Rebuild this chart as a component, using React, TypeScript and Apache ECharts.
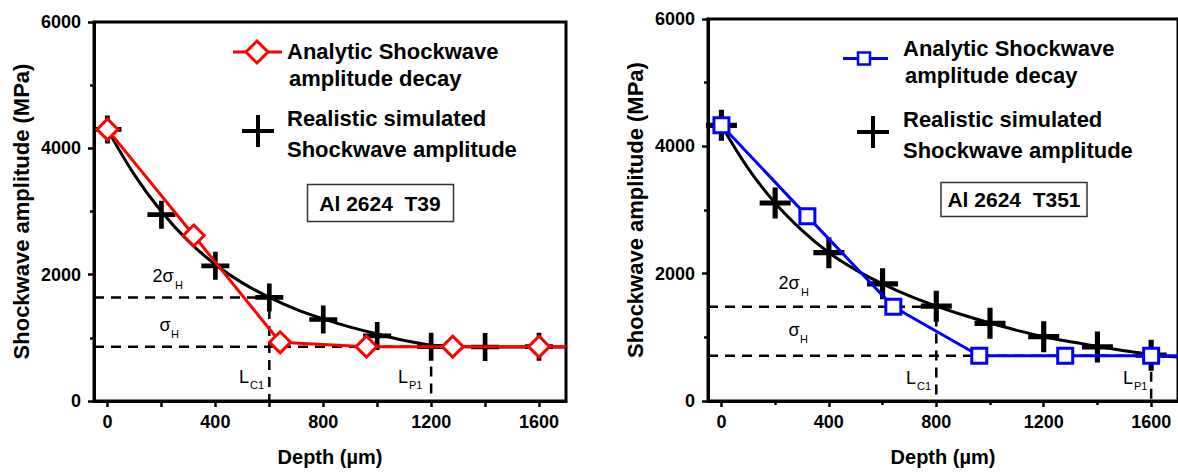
import React, { useEffect, useRef } from "react";
import * as echarts from "echarts";

// ---------- data ----------
const xMajorTicks = [0, 400, 800, 1200, 1600];
const xMinorTicks = [200, 600, 1000, 1400];
const X_MIN = -50;
const X_MAX = 1700;
const Y_MAX = 6000;

// Left chart: Al 2624 T39
const leftAnalyticX = [0, 320, 640, 960, 1280, 1600];
const leftAnalyticY = [4300, 2620, 930, 860, 860, 860];
const leftAnalyticEndY = 860; // continues flat to the frame
const leftSimX = [0, 200, 400, 600, 800, 1000, 1200, 1400, 1600];
const leftSimY = [4300, 2950, 2140, 1640, 1290, 1030, 860, 855, 860];
const leftCurveX = [0, 100, 200, 300, 400, 500, 600, 700, 800, 900, 1000, 1100, 1200, 1300, 1400, 1500, 1600, 1700];
const leftCurveY = [4300, 3580, 3000, 2530, 2160, 1870, 1640, 1450, 1300, 1170, 1060, 960, 885, 862, 857, 856, 856, 856];
const left2SigmaH = 1640;
const leftSigmaH = 860;
const leftLC1 = 600;
const leftLP1 = 1200;

// Right chart: Al 2624 T351
const rightAnalyticX = [0, 320, 640, 960, 1280, 1600];
const rightAnalyticY = [4330, 2900, 1480, 710, 710, 710];
const rightAnalyticEndY = 710;
const rightSimX = [0, 200, 400, 600, 800, 1000, 1200, 1400, 1600];
const rightSimY = [4330, 3110, 2330, 1840, 1490, 1220, 1010, 850, 720];
const rightCurveX = [0, 100, 200, 300, 400, 500, 600, 700, 800, 900, 1000, 1100, 1200, 1300, 1400, 1500, 1600, 1700];
const rightCurveY = [4330, 3650, 3110, 2680, 2330, 2060, 1840, 1650, 1490, 1350, 1225, 1110, 1010, 930, 860, 790, 730, 690];
const right2SigmaH = 1480;
const rightSigmaH = 710;
const rightLC1 = 800;
const rightLP1 = 1600;

const legendAnalytic = ["Analytic Shockwave", "amplitude decay"];
const legendSim = ["Realistic simulated", "Shockwave amplitude"];
const leftTitle = "Al 2624  T39";
const rightTitle = "Al 2624  T351";
const yName = "Shockwave amplitude (MPa)";
const xName = "Depth (\u00b5m)";

// ---------- helpers ----------
const FONT = '"Liberation Sans", Arial, Helvetica, sans-serif';
const PLUS = "path://M-2.5,-15H2.5V-2.5H15V2.5H2.5V15H-2.5V2.5H-15V-2.5H-2.5Z";

const zip = (xs: number[], ys: number[]) => xs.map((x, i) => [x, ys[i]]);
const plain = (v: number) => String(v);

const GRIDS = [
  { left: 94, top: 22, width: 472, height: 381 },
  { left: 708, top: 19, width: 475, height: 382 },
];

function xAxes(gridIndex: number) {
  const common = {
    gridIndex,
    type: "value",
    min: X_MIN,
    max: X_MAX,
    splitLine: { show: false },
  };
  return [
    {
      ...common,
      position: "bottom",
      name: xName,
      nameLocation: "middle",
      nameGap: 46,
      nameTextStyle: { color: "#000", fontSize: 20, fontWeight: "bold", fontFamily: FONT },
      axisLine: { show: true, onZero: false, lineStyle: { color: "#000", width: 3 } },
      axisTick: { show: true, length: 6, customValues: xMajorTicks, lineStyle: { color: "#000", width: 2.5 } },
      axisLabel: {
        show: true,
        customValues: xMajorTicks,
        formatter: plain,
        margin: 12,
        color: "#000",
        fontSize: 18,
        fontWeight: "bold",
        fontFamily: FONT,
      },
    },
    {
      ...common,
      position: "top",
      offset: -GRIDS[gridIndex].height,
      axisLine: { show: false, onZero: false },
      axisTick: { show: true, inside: true, length: 4, customValues: xMinorTicks, lineStyle: { color: "#000", width: 2.5 } },
      axisLabel: { show: false },
    },
  ];
}

function yAxis(gridIndex: number) {
  return {
    gridIndex,
    type: "value",
    min: 0,
    max: Y_MAX,
    interval: 2000,
    position: "left",
    name: yName,
    nameLocation: "middle",
    nameGap: 62,
    nameTextStyle: { color: "#000", fontSize: 22, fontWeight: "bold", fontFamily: FONT },
    splitLine: { show: false },
    axisLine: { show: true, onZero: false, lineStyle: { color: "#000", width: 3 } },
    axisTick: { show: true, length: 6, lineStyle: { color: "#000", width: 2.5 } },
    minorTick: { show: true, splitNumber: 2, length: 4, lineStyle: { color: "#000", width: 2.5 } },
    axisLabel: { margin: 13, formatter: plain, color: "#000", fontSize: 18, fontWeight: "bold", fontFamily: FONT },
  };
}

function chartSeries(
  xAxisIndex: number,
  yAxisIndex: number,
  color: string,
  symbol: string,
  symbolSize: number,
  plusSize: number,
  analyticX: number[],
  analyticY: number[],
  analyticEndY: number,
  simX: number[],
  simY: number[],
  curveX: number[],
  curveY: number[],
  s2: number,
  s1: number,
  lc1: number,
  lp1: number
) {
  const base = { xAxisIndex, yAxisIndex, animation: false, silent: true };
  const dash = { color: "#000", width: 2.5, type: [10, 7] };
  return [
    {
      ...base,
      type: "line",
      z: 1,
      symbol: "none",
      lineStyle: dash,
      data: [
        [X_MIN, s2],
        [lc1, s2],
        [lc1, 0],
      ],
    },
    {
      ...base,
      type: "line",
      z: 1,
      symbol: "none",
      lineStyle: dash,
      data: [
        [X_MIN, s1],
        [lp1, s1],
        [lp1, 0],
      ],
    },
    {
      ...base,
      type: "line",
      z: 2,
      symbol: "none",
      smooth: 0.4,
      lineStyle: { color: "#000", width: 3 },
      data: zip(curveX, curveY),
    },
    {
      ...base,
      type: "scatter",
      z: 3,
      symbol: PLUS,
      symbolSize: plusSize,
      itemStyle: { color: "#000", opacity: 1 },
      data: zip(simX, simY),
    },
    {
      ...base,
      type: "line",
      z: 4,
      symbol,
      symbolSize,
      showAllSymbol: true,
      lineStyle: { color, width: 3 },
      itemStyle: { color: "#fff", borderColor: color, borderWidth: 3, opacity: 1 },
      data: [
        ...zip(analyticX, analyticY),
        { value: [X_MAX, analyticEndY], symbol: "none" },
      ],
    },
  ];
}

function txt(x: number, y: number, text: string, size: number, weight = "bold", align = "left") {
  return {
    type: "text",
    x,
    y,
    silent: true,
    z: 100,
    style: {
      text,
      fill: "#000",
      fontSize: size,
      fontWeight: weight,
      fontFamily: FONT,
      align,
      verticalAlign: "middle",
      textAlign: align,
      textVerticalAlign: "middle",
    },
  };
}

function plusIcon(cx: number, cy: number, half: number) {
  return [
    { type: "line", silent: true, z: 100, shape: { x1: cx - half, y1: cy, x2: cx + half, y2: cy }, style: { stroke: "#000", lineWidth: 4 } },
    { type: "line", silent: true, z: 100, shape: { x1: cx, y1: cy - half, x2: cx, y2: cy + half }, style: { stroke: "#000", lineWidth: 4 } },
  ];
}

function sigmaLabels(
  t2: [number, number],
  t1: [number, number],
  lc: [number, number],
  lp: [number, number]
) {
  return [
    txt(t2[0], t2[1], "2\u03c3", 18, "normal", "center"),
    txt(t2[0] + 12, t2[1] + 9, "H", 11, "normal", "left"),
    txt(t1[0], t1[1], "\u03c3", 18, "normal", "center"),
    txt(t1[0] + 6, t1[1] + 9, "H", 11, "normal", "left"),
    txt(lc[0], lc[1], "L", 18, "normal", "center"),
    txt(lc[0] + 6, lc[1] + 8, "C1", 11, "normal", "left"),
    txt(lp[0], lp[1], "L", 18, "normal", "center"),
    txt(lp[0] + 6, lp[1] + 8, "P1", 11, "normal", "left"),
  ];
}

function buildOption() {
  const graphic: any[] = [
    // Left legend
    { type: "line", silent: true, z: 100, shape: { x1: 233, y1: 52, x2: 282, y2: 52 }, style: { stroke: "#ff0000", lineWidth: 3 } },
    {
      type: "polygon",
      silent: true,
      z: 101,
      shape: { points: [[257, 41], [268, 52], [257, 63], [246, 52]] },
      style: { fill: "#fff", stroke: "#ff0000", lineWidth: 3 },
    },
    txt(287, 51, legendAnalytic[0], 22),
    txt(289, 78, legendAnalytic[1], 22),
    ...plusIcon(258, 131, 16),
    txt(287, 118, legendSim[0], 22),
    txt(287, 149, legendSim[1], 22),
    { type: "rect", silent: true, z: 100, shape: { x: 307.5, y: 184.5, width: 146, height: 37 }, style: { fill: "#fff", stroke: "#333", lineWidth: 1.5 } },
    txt(380, 203, leftTitle, 21, "bold", "center"),
    // Right legend
    { type: "line", silent: true, z: 100, shape: { x1: 843, y1: 58.5, x2: 888, y2: 58.5 }, style: { stroke: "#0000ff", lineWidth: 3 } },
    { type: "rect", silent: true, z: 101, shape: { x: 858, y: 52.5, width: 12, height: 12 }, style: { fill: "#fff", stroke: "#0000ff", lineWidth: 2.5 } },
    txt(903, 48, legendAnalytic[0], 22),
    txt(905, 75, legendAnalytic[1], 22),
    ...plusIcon(873, 132, 16),
    txt(903, 119, legendSim[0], 22),
    txt(903, 150, legendSim[1], 22),
    { type: "rect", silent: true, z: 100, shape: { x: 941, y: 182.5, width: 146, height: 34 }, style: { fill: "#fff", stroke: "#333", lineWidth: 1.5 } },
    txt(1014, 199.5, rightTitle, 21, "bold", "center"),
    // annotations
    ...sigmaLabels([163, 276], [165, 325], [244, 377], [403, 377]),
    ...sigmaLabels([789, 283], [794, 330], [911, 378], [1128, 378]),
  ];

  return {
    animation: false,
    backgroundColor: "#fff",
    textStyle: { fontFamily: FONT },
    grid: GRIDS.map((g) => ({
      ...g,
      show: true,
      borderColor: "#000",
      borderWidth: 3,
      backgroundColor: "transparent",
      containLabel: false,
    })),
    xAxis: [...xAxes(0), ...xAxes(1)],
    yAxis: [yAxis(0), yAxis(1)],
    series: [
      ...chartSeries(0, 0, "#ff0000", "diamond", 21, 28,
        leftAnalyticX, leftAnalyticY, leftAnalyticEndY,
        leftSimX, leftSimY, leftCurveX, leftCurveY,
        left2SigmaH, leftSigmaH, leftLC1, leftLP1),
      ...chartSeries(2, 1, "#0000ff", "rect", 15, 31,
        rightAnalyticX, rightAnalyticY, rightAnalyticEndY,
        rightSimX, rightSimY, rightCurveX, rightCurveY,
        right2SigmaH, rightSigmaH, rightLC1, rightLP1),
    ],
    graphic,
  };
}

export default function App() {
  const ref = useRef<HTMLDivElement | null>(null);
  useEffect(() => {
    if (!ref.current) return;
    const chart = echarts.init(ref.current, null, { renderer: "svg" });
    chart.setOption(buildOption() as any);
    return () => chart.dispose();
  }, []);
  return (
    <div
      ref={ref}
      style={{ position: "absolute", left: 0, top: 0, width: 1178, height: 472, background: "#fff" }}
    />
  );
}
